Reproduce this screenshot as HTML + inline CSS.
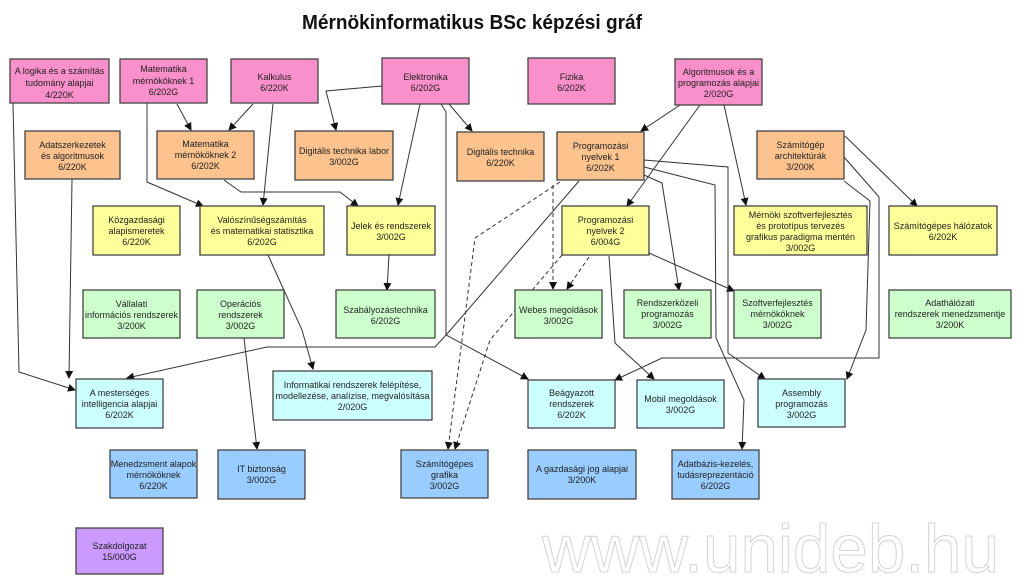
<!DOCTYPE html>
<html><head><meta charset="utf-8"><style>
html,body{margin:0;padding:0;background:#fff;width:1024px;height:585px;overflow:hidden}
svg{display:block}
text{font-family:"Liberation Sans",Arial,sans-serif}
.b text{font-size:9px;fill:#222;text-anchor:middle}
rect.n{stroke:#444;stroke-width:1.3}
.l{fill:none;stroke:#333;stroke-width:1}
.d{fill:none;stroke:#333;stroke-width:1;stroke-dasharray:4,3}
</style></head><body>
<svg width="1024" height="585" viewBox="0 0 1024 585" xmlns="http://www.w3.org/2000/svg">
<defs><marker id="a" markerWidth="8" markerHeight="8" refX="7" refY="4" orient="auto" markerUnits="userSpaceOnUse"><path d="M0,0 L8,4 L0,8 z" fill="#111"/></marker></defs>
<text x="302" y="29" font-size="20" font-weight="bold" textLength="340" lengthAdjust="spacingAndGlyphs" fill="#111">Mérnökinformatikus BSc képzési gráf</text>
<text x="542" y="572" font-size="68" fill="#fff" stroke="#d4d4d4" stroke-width="1" textLength="457" lengthAdjust="spacingAndGlyphs">www.unideb.hu</text>

<g>
<polyline class="l" marker-end="url(#a)" points="13,103 19,372 75,390"/>
<polyline class="l" marker-end="url(#a)" points="72,179 69,378"/>
<polyline class="l" marker-end="url(#a)" points="147,103 147,182 203,206"/>
<polyline class="l" marker-end="url(#a)" points="177,104 191,130"/>
<polyline class="l" marker-end="url(#a)" points="253,104 229,130"/>
<polyline class="l" marker-end="url(#a)" points="273,104 263,205"/>
<polyline class="l" marker-end="url(#a)" points="382,86 326,91 336,130"/>
<polyline class="l" marker-end="url(#a)" points="420,104 398,205"/>
<polyline class="l" marker-end="url(#a)" points="441,104 446,112 446,335 528,379"/>
<polyline class="l" marker-end="url(#a)" points="449,104 472,131"/>
<polyline class="l" marker-end="url(#a)" points="224,180 241,192 340,192 358,206"/>
<polyline class="l" marker-end="url(#a)" points="389,255 387,290"/>
<polyline class="l" marker-end="url(#a)" points="268,255 302,330 313,369"/>
<polyline class="l" marker-end="url(#a)" points="244,338 257,449"/>
<polyline class="l" marker-end="url(#a)" points="680,105 641,131"/>
<polyline class="l" marker-end="url(#a)" points="700,105 627,206"/>
<polyline class="l" marker-end="url(#a)" points="724,105 746,205"/>
<polyline class="l" marker-end="url(#a)" points="845,136 917,206"/>
<polyline class="l" marker-end="url(#a)" points="579,181 447,334 435,347 267,347 127,378"/>
<polyline class="l" marker-end="url(#a)" points="644,175 662,183 679,290"/>
<polyline class="l" marker-end="url(#a)" points="649,253 734,291"/>
<polyline class="l" marker-end="url(#a)" points="609,256 615,343 654,379"/>
<polyline class="l" marker-end="url(#a)" points="644,167 715,185 716,338 744,400 742,449"/>
<polyline class="l" marker-end="url(#a)" points="644,160 728,167 728,353 765,379"/>
<polyline class="l" marker-end="url(#a)" points="844,157 879,197 879,358 662,358 615,380"/>
<polyline class="l" marker-end="url(#a)" points="844,181 870,201 866,330 847,379"/>
<polyline class="d" marker-end="url(#a)" points="560,182 475,238 462,340 448,449"/>
<polyline class="d" marker-end="url(#a)" points="562,255 490,340 455,449"/>
<polyline class="d" marker-end="url(#a)" points="553,185 553,289"/>
<polyline class="d" marker-end="url(#a)" points="589,257 567,289"/>
</g>

<g class="b">
<rect class="n" x="10" y="59" width="99" height="44" fill="#f98fcb"/><text x="59.5" y="74">A logika és a számítás</text><text x="59.5" y="86">tudomány alapjai</text><text x="59.5" y="98">4/220K</text>
<rect class="n" x="120" y="59" width="87" height="44" fill="#f98fcb"/><text x="163.5" y="72">Matematika</text><text x="163.5" y="84">mérnököknek 1</text><text x="163.5" y="95">6/202G</text>
<rect class="n" x="231" y="59" width="87" height="44" fill="#f98fcb"/><text x="274.5" y="80">Kalkulus</text><text x="274.5" y="91">6/220K</text>
<rect class="n" x="382" y="58" width="87" height="46" fill="#f98fcb"/><text x="425.5" y="80">Elektronika</text><text x="425.5" y="91">6/202G</text>
<rect class="n" x="528" y="58" width="87" height="46" fill="#f98fcb"/><text x="571.5" y="80">Fizika</text><text x="571.5" y="91">6/202K</text>
<rect class="n" x="675" y="59" width="87" height="46" fill="#f98fcb"/><text x="718.5" y="75">Algoritmusok és a</text><text x="718.5" y="86">programozás alapjai</text><text x="718.5" y="97">2/020G</text>
<rect class="n" x="25" y="131" width="95" height="48" fill="#fcc38f"/><text x="72.5" y="148">Adatszerkezetek</text><text x="72.5" y="159">és algoritmusok</text><text x="72.5" y="170">6/220K</text>
<rect class="n" x="157" y="131" width="97" height="48" fill="#fcc38f"/><text x="205.5" y="147">Matematika</text><text x="205.5" y="158">mérnököknek 2</text><text x="205.5" y="169">6/202K</text>
<rect class="n" x="295" y="131" width="98" height="49" fill="#fcc38f"/><text x="344" y="154">Digitális technika labor</text><text x="344" y="165">3/002G</text>
<rect class="n" x="457" y="132" width="87" height="49" fill="#fcc38f"/><text x="500.5" y="155">Digitális technika</text><text x="500.5" y="166">6/220K</text>
<rect class="n" x="557" y="132" width="87" height="48" fill="#fcc38f"/><text x="600.5" y="149">Programozási</text><text x="600.5" y="160">nyelvek 1</text><text x="600.5" y="171">6/202K</text>
<rect class="n" x="757" y="131" width="87" height="48" fill="#fcc38f"/><text x="800.5" y="148">Számítógép</text><text x="800.5" y="159">architektúrák</text><text x="800.5" y="170">3/200K</text>
<rect class="n" x="93" y="206" width="87" height="49" fill="#ffff99"/><text x="136.5" y="223">Közgazdasági</text><text x="136.5" y="234">alapismeretek</text><text x="136.5" y="245">6/220K</text>
<rect class="n" x="200" y="206" width="124" height="49" fill="#ffff99"/><text x="262" y="223">Valószínűségszámítás</text><text x="262" y="234">és matematikai statisztika</text><text x="262" y="245">6/202G</text>
<rect class="n" x="347" y="206" width="88" height="49" fill="#ffff99"/><text x="391" y="229">Jelek és rendszerek</text><text x="391" y="240">3/002G</text>
<rect class="n" x="562" y="206" width="87" height="49" fill="#ffff99"/><text x="605.5" y="223">Programozási</text><text x="605.5" y="234">nyelvek 2</text><text x="605.5" y="245">6/004G</text>
<rect class="n" x="734" y="206" width="133" height="49" fill="#ffff99"/><text x="800.5" y="218">Mérnöki szoftverfejlesztés</text><text x="800.5" y="229">és prototípus tervezés</text><text x="800.5" y="240">grafikus paradigma mentén</text><text x="800.5" y="251">3/002G</text>
<rect class="n" x="889" y="206" width="108" height="49" fill="#ffff99"/><text x="943" y="229">Számítógépes hálózatok</text><text x="943" y="240">6/202K</text>
<rect class="n" x="83" y="290" width="97" height="48" fill="#ccffcc"/><text x="131.5" y="307">Vállalati</text><text x="131.5" y="318">információs rendszerek</text><text x="131.5" y="329">3/200K</text>
<rect class="n" x="197" y="290" width="87" height="48" fill="#ccffcc"/><text x="240.5" y="307">Operációs</text><text x="240.5" y="318">rendszerek</text><text x="240.5" y="329">3/002G</text>
<rect class="n" x="336" y="290" width="99" height="48" fill="#ccffcc"/><text x="385.5" y="313">Szabályozástechnika</text><text x="385.5" y="324">6/202G</text>
<rect class="n" x="515" y="290" width="87" height="48" fill="#ccffcc"/><text x="558.5" y="313">Webes megoldások</text><text x="558.5" y="324">3/002G</text>
<rect class="n" x="624" y="290" width="87" height="48" fill="#ccffcc"/><text x="667.5" y="306">Rendszerközeli</text><text x="667.5" y="317">programozás</text><text x="667.5" y="328">3/002G</text>
<rect class="n" x="734" y="290" width="87" height="48" fill="#ccffcc"/><text x="777.5" y="306">Szoftverfejlesztés</text><text x="777.5" y="317">mérnököknek</text><text x="777.5" y="328">3/002G</text>
<rect class="n" x="889" y="290" width="122" height="48" fill="#ccffcc"/><text x="950" y="306">Adathálózati</text><text x="950" y="317">rendszerek menedzsmentje</text><text x="950" y="328">3/200K</text>
<rect class="n" x="76" y="379" width="87" height="49" fill="#ccffff"/><text x="119.5" y="396">A mesterséges</text><text x="119.5" y="407">intelligencia alapjai</text><text x="119.5" y="418">6/202K</text>
<rect class="n" x="273" y="371" width="159" height="49" fill="#ccffff"/><text x="352.5" y="388">Informatikai rendszerek felépítése,</text><text x="352.5" y="399">modellezése, analízise, megvalósítása</text><text x="352.5" y="410">2/020G</text>
<rect class="n" x="528" y="380" width="87" height="48" fill="#ccffff"/><text x="571.5" y="396">Beágyazott</text><text x="571.5" y="407">rendszerek</text><text x="571.5" y="418">6/202K</text>
<rect class="n" x="637" y="380" width="87" height="48" fill="#ccffff"/><text x="680.5" y="402">Mobil megoldások</text><text x="680.5" y="413">3/002G</text>
<rect class="n" x="758" y="379" width="87" height="48" fill="#ccffff"/><text x="801.5" y="396">Assembly</text><text x="801.5" y="407">programozás</text><text x="801.5" y="418">3/002G</text>
<rect class="n" x="110" y="450" width="87" height="48" fill="#99ccff"/><text x="153.5" y="467">Menedzsment alapok</text><text x="153.5" y="478">mérnököknek</text><text x="153.5" y="489">6/220K</text>
<rect class="n" x="218" y="450" width="87" height="49" fill="#99ccff"/><text x="261.5" y="472">IT biztonság</text><text x="261.5" y="483">3/002G</text>
<rect class="n" x="401" y="450" width="87" height="48" fill="#99ccff"/><text x="444.5" y="467">Számítógépes</text><text x="444.5" y="478">grafika</text><text x="444.5" y="489">3/002G</text>
<rect class="n" x="528" y="450" width="108" height="49" fill="#99ccff"/><text x="582" y="472">A gazdasági jog alapjai</text><text x="582" y="483">3/200K</text>
<rect class="n" x="672" y="450" width="87" height="49" fill="#99ccff"/><text x="715.5" y="467">Adatbázis-kezelés,</text><text x="715.5" y="478">tudásreprezentáció</text><text x="715.5" y="489">6/202G</text>
<rect class="n" x="76" y="528" width="87" height="46" fill="#cc99ff"/><text x="119.5" y="549">Szakdolgozat</text><text x="119.5" y="560">15/000G</text>
</g>
</svg>
</body></html>
